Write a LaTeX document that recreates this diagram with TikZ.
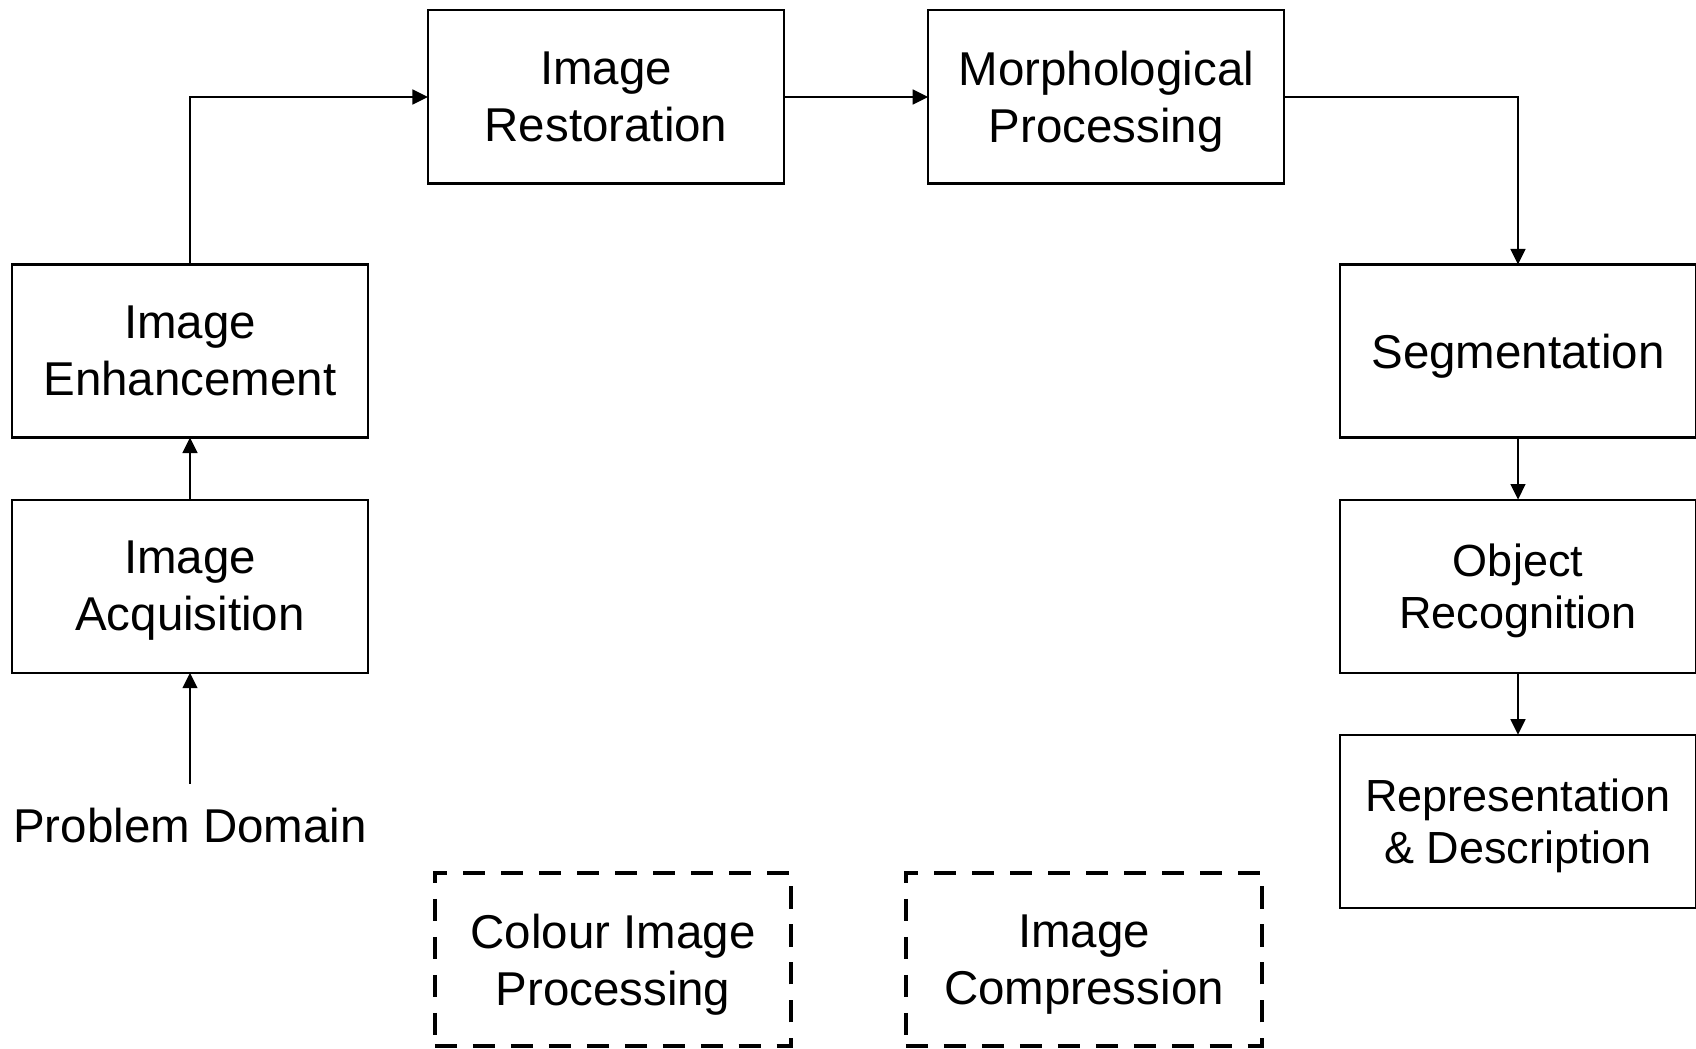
\documentclass[tikz,border=0pt]{standalone}
\usepackage{fontspec}
\setmainfont{Liberation Sans}
\usetikzlibrary{arrows.meta,positioning}

\begin{document}
\begin{tikzpicture}[x=0.01cm, y=-0.01cm,
    >={Triangle[length=4.4pt,width=4.2pt]},
    every path/.style={line width=0.6pt},
    block/.style={draw, line width=0.6pt, minimum width=3.56cm, minimum height=1.73cm,
        inner sep=0pt, outer sep=0pt, align=center, text depth=0pt,
        font=\fontsize{13.5}{16.2}\selectfont},
    small/.style={font=\fontsize{12.8}{15}\selectfont},
    extra/.style={block, line width=1.3pt, dash pattern=on 6.3pt off 4.5pt},
    node distance=0.62cm]
            \useasboundingbox (0,0) rectangle (1696,1049);

            \node [block] (enh) at (190,351) {Image\\Enhancement};
            \node [block, below = of enh] (acq) {Image\\Acquisition};
            \node [anchor=north, inner xsep=0pt, inner ysep=0.24cm, outer sep=0pt,
                font=\fontsize{13.5}{16.2}\selectfont] (dom) at (190,784) {Problem Domain};

            \node [block] (res) at (606,97) {Image\\Restoration};
            \node [block, right = 1.44cm of res] (mor) {Morphological\\Processing};

            \node [block] (seg) at (1518,351) {Segmentation};
            \node [block, small, below = of seg] (obj) {Object\\Recognition};
            \node [block, small, below = of obj] (rep) {Representation\\\& Description};

            \node [extra] (col) at (613,959.5) {Colour Image\\Processing};
            \node [extra] (com) at (1084,959.5) {Image\\Compression};

            \draw [->] (dom) -- (acq);
            \draw [->] (acq) -- (enh);
            \draw [->] (enh.north) |- (res.west);
            \draw [->] (res) -- (mor);
            \draw [->] (mor.east) -| (seg.north);
            \draw [->] (seg) -- (obj);
            \draw [->] (obj) -- (rep);
\end{tikzpicture}
\end{document}
